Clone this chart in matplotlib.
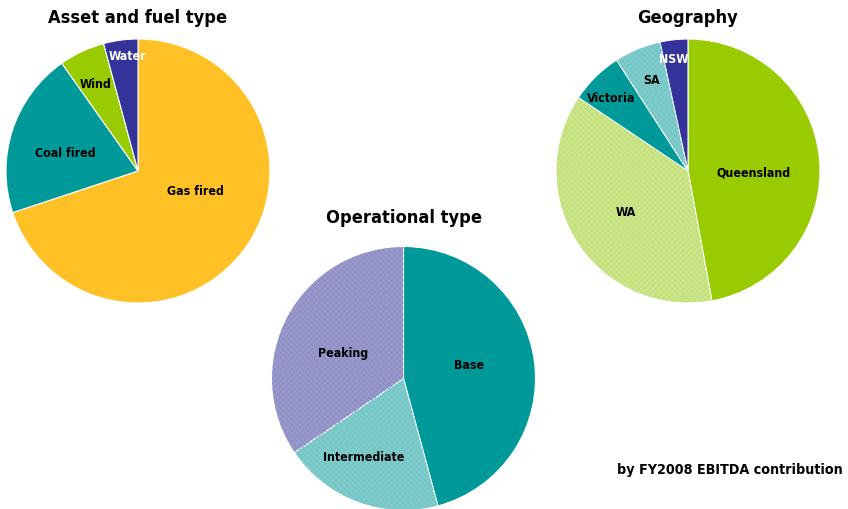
import matplotlib
matplotlib.use("Agg")
import matplotlib.pyplot as plt
from matplotlib import font_manager
from matplotlib.font_manager import FontProperties

# ---- data ----
fuel_labels = ["Gas fired", "Coal fired", "Wind", "Water"]
fuel_values = [69.9, 20.3, 5.6, 4.2]

geo_labels = ["Queensland", "WA", "Victoria", "SA", "NSW"]
geo_values = [47.1, 37.3, 6.5, 5.7, 3.4]

op_labels = ["Base", "Intermediate", "Peaking"]
op_values = [45.8, 19.7, 34.5]

# ---- fonts: prefer a condensed bold face if installed ----
files = [f.fname for f in font_manager.fontManager.ttflist]


def pick(cands):
    for c in cands:
        for fn in files:
            if fn.split("/")[-1].lower() == c.lower():
                return fn
    return None


bold_file = pick(["DejaVuSansCondensed-Bold.ttf"])
if bold_file:
    FP = lambda size: FontProperties(fname=bold_file, size=size)
    TIT, LAB, FOOT = 13.1, 8.9, 10.3
else:
    FP = lambda size: FontProperties(family=["Liberation Sans", "DejaVu Sans"],
                                     weight="bold", size=size)
    TIT, LAB, FOOT = 14.2, 9.4, 10.5

plt.rcParams["hatch.linewidth"] = 0.5

TEAL = "#009999"
YELLOW = "#FFC125"
GREEN = "#99CC00"
NAVY = "#333399"
LTEAL = "#80CCCC"
LGREEN = "#CCE68A"
LAV = "#9999CC"

fuel_colors = [YELLOW, TEAL, GREEN, NAVY]
fuel_hatch = [None, None, None, None]
fuel_text = [(0.432, -0.152), (-0.553, 0.136), (-0.318, 0.652), (-0.083, 0.864)]
fuel_tc = ["black", "black", "black", "white"]

geo_colors = [GREEN, LGREEN, TEAL, LTEAL, NAVY]
geo_hatch = [None, "#C0DE78", None, "#72C4C4", None]
geo_text = [(0.5, -0.015), (-0.47, -0.311), (-0.583, 0.553), (-0.273, 0.689), (-0.106, 0.848)]
geo_tc = ["black", "black", "black", "black", "white"]

op_colors = [TEAL, LTEAL, LAV]
op_hatch = [None, "#72C4C4", "#8C8CC4"]
op_text = [(0.5, 0.102), (-0.305, -0.595), (-0.455, 0.193)]
op_tc = ["black", "black", "black"]

W, H = 848, 509
R = 132
fig = plt.figure(figsize=(W / 100, H / 100), dpi=100)


def draw(cx, cy, values, labels, colors, hatches, textpos, tcol, title, ty):
    ax = fig.add_axes([(cx - R) / W, 1 - (cy + R) / H, 2 * R / W, 2 * R / H])
    ax.pie(values, colors=colors, startangle=90, counterclock=False,
           radius=1, wedgeprops=dict(edgecolor="white", linewidth=0.8))
    over, _ = ax.pie(values, colors=["none"] * len(values), startangle=90,
                     counterclock=False, radius=0.995,
                     wedgeprops=dict(linewidth=0))
    for w, h in zip(over, hatches):
        if h is None:
            w.set_visible(False)
        else:
            w.set_edgecolor(h)
            w.set_linewidth(0)
            w.set_hatch("xxxxxx")
    for lab, (x, y), c in zip(labels, textpos, tcol):
        ax.text(x, y, lab, ha="center", va="center", fontproperties=FP(LAB),
                color=c)
    ax.set_xlim(-1, 1)
    ax.set_ylim(-1, 1)
    ax.set_aspect("equal")
    ax.axis("off")
    fig.text(cx / W, 1 - ty / H, title, ha="center", va="center",
             fontproperties=FP(TIT))


draw(138, 171, fuel_values, fuel_labels, fuel_colors, fuel_hatch, fuel_text,
     fuel_tc, "Asset and fuel type", 18)
draw(688, 171, geo_values, geo_labels, geo_colors, geo_hatch, geo_text,
     geo_tc, "Geography", 18)
draw(403.5, 378.5, op_values, op_labels, op_colors, op_hatch, op_text,
     op_tc, "Operational type", 218)

fig.text(843 / W, 1 - 470 / H, "by FY2008 EBITDA contribution", ha="right",
         va="center", fontproperties=FP(FOOT))

fig.savefig("out.png", dpi=100)
